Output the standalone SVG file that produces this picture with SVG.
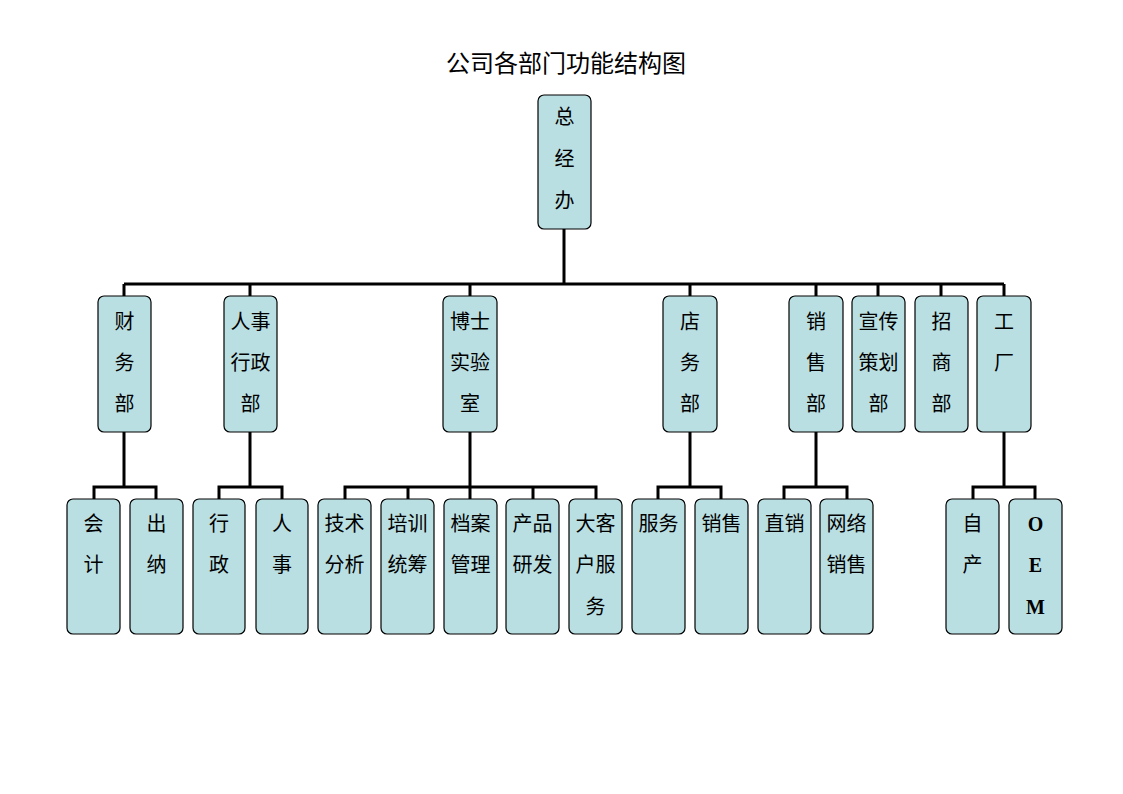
<svg xmlns="http://www.w3.org/2000/svg" width="1123" height="794" viewBox="0 0 1123 794">
<style>
.n{fill:#BADFE2;stroke:#000;stroke-width:1.2}
.t{font-family:"Noto Sans CJK SC","Liberation Sans",sans-serif;font-size:20px;fill:#000;text-anchor:middle}
.ti{font-family:"Noto Sans CJK SC","Liberation Sans",sans-serif;font-size:24px;fill:#000;text-anchor:middle}
.e{font-family:"Liberation Serif",serif;font-size:20px;font-weight:bold;fill:#000;text-anchor:middle}
.c{fill:none;stroke:#000;stroke-width:3}
</style>
<rect width="1123" height="794" fill="#fff"/>
<text class="ti" x="566" y="72">公司各部门功能结构图</text>
<g id="connectors">
<path class="c" d="M564 229V284M124 284H1004M124 284V296M250 284V296M470 284V296M690 284V296M816 284V296M878 284V296M941 284V296M1004 284V296"/>
<path class="c" d="M124 432V487M94 499V487H156V499"/>
<path class="c" d="M250 432V487M219 499V487H282V499"/>
<path class="c" d="M470 432V487M345 499V487H596V499M408 487V499M470 487V499M533 487V499"/>
<path class="c" d="M690 432V487M658 499V487H721V499"/>
<path class="c" d="M816 432V487M784 499V487H847V499"/>
<path class="c" d="M1004 432V487M973 499V487H1035V499"/>
</g>
<g id="zongjingban"><rect class="n" x="538" y="95" width="53" height="134" rx="6"/><text class="t" x="564.5" y="124">总</text><text class="t" x="564.5" y="166">经</text><text class="t" x="564.5" y="208">办</text></g>
<g id="caiwubu"><rect class="n" x="98" y="296" width="53" height="136" rx="6"/><text class="t" x="124.5" y="329">财</text><text class="t" x="124.5" y="370">务</text><text class="t" x="124.5" y="411">部</text></g>
<g id="renshixingzhengbu"><rect class="n" x="224" y="296" width="53" height="136" rx="6"/><text class="t" x="250.5" y="329">人事</text><text class="t" x="250.5" y="370">行政</text><text class="t" x="250.5" y="411">部</text></g>
<g id="boshishiyanshi"><rect class="n" x="443" y="296" width="54" height="136" rx="6"/><text class="t" x="470" y="329">博士</text><text class="t" x="470" y="370">实验</text><text class="t" x="470" y="411">室</text></g>
<g id="dianwubu"><rect class="n" x="663" y="296" width="54" height="136" rx="6"/><text class="t" x="690" y="329">店</text><text class="t" x="690" y="370">务</text><text class="t" x="690" y="411">部</text></g>
<g id="xiaoshoubu"><rect class="n" x="789" y="296" width="54" height="136" rx="6"/><text class="t" x="816" y="329">销</text><text class="t" x="816" y="370">售</text><text class="t" x="816" y="411">部</text></g>
<g id="xuanchuancehuabu"><rect class="n" x="852" y="296" width="53" height="136" rx="6"/><text class="t" x="878.5" y="329">宣传</text><text class="t" x="878.5" y="370">策划</text><text class="t" x="878.5" y="411">部</text></g>
<g id="zhaoshangbu"><rect class="n" x="915" y="296" width="53" height="136" rx="6"/><text class="t" x="941.5" y="329">招</text><text class="t" x="941.5" y="370">商</text><text class="t" x="941.5" y="411">部</text></g>
<g id="gongchang"><rect class="n" x="977" y="296" width="54" height="136" rx="6"/><text class="t" x="1004" y="329">工</text><text class="t" x="1004" y="370">厂</text></g>
<g id="kuaiji"><rect class="n" x="67" y="499" width="53" height="135" rx="6"/><text class="t" x="93.5" y="531">会</text><text class="t" x="93.5" y="572">计</text></g>
<g id="chuna"><rect class="n" x="130" y="499" width="53" height="135" rx="6"/><text class="t" x="156.5" y="531">出</text><text class="t" x="156.5" y="572">纳</text></g>
<g id="xingzheng"><rect class="n" x="193" y="499" width="52" height="135" rx="6"/><text class="t" x="219" y="531">行</text><text class="t" x="219" y="572">政</text></g>
<g id="renshi"><rect class="n" x="256" y="499" width="52" height="135" rx="6"/><text class="t" x="282" y="531">人</text><text class="t" x="282" y="572">事</text></g>
<g id="jishufenxi"><rect class="n" x="318" y="499" width="53" height="135" rx="6"/><text class="t" x="344.5" y="531">技术</text><text class="t" x="344.5" y="572">分析</text></g>
<g id="peixuntongchou"><rect class="n" x="381" y="499" width="53" height="135" rx="6"/><text class="t" x="407.5" y="531">培训</text><text class="t" x="407.5" y="572">统筹</text></g>
<g id="danganguanli"><rect class="n" x="444" y="499" width="53" height="135" rx="6"/><text class="t" x="470.5" y="531">档案</text><text class="t" x="470.5" y="572">管理</text></g>
<g id="chanpinyanfa"><rect class="n" x="506" y="499" width="53" height="135" rx="6"/><text class="t" x="532.5" y="531">产品</text><text class="t" x="532.5" y="572">研发</text></g>
<g id="dakehufuwu"><rect class="n" x="569" y="499" width="53" height="135" rx="6"/><text class="t" x="595.5" y="531">大客</text><text class="t" x="595.5" y="572">户服</text><text class="t" x="595.5" y="614">务</text></g>
<g id="fuwu"><rect class="n" x="632" y="499" width="53" height="135" rx="6"/><text class="t" x="658.5" y="531">服务</text></g>
<g id="xiaoshou"><rect class="n" x="695" y="499" width="53" height="135" rx="6"/><text class="t" x="721.5" y="531">销售</text></g>
<g id="zhixiao"><rect class="n" x="758" y="499" width="53" height="135" rx="6"/><text class="t" x="784.5" y="531">直销</text></g>
<g id="wangluoxiaoshou"><rect class="n" x="820" y="499" width="53" height="135" rx="6"/><text class="t" x="846.5" y="531">网络</text><text class="t" x="846.5" y="572">销售</text></g>
<g id="zichan"><rect class="n" x="946" y="499" width="53" height="135" rx="6"/><text class="t" x="972.5" y="531">自</text><text class="t" x="972.5" y="572">产</text></g>
<g id="oem"><rect class="n" x="1009" y="499" width="53" height="135" rx="6"/><text class="e" x="1035.5" y="531">O</text><text class="e" x="1035.5" y="572">E</text><text class="e" x="1035.5" y="614">M</text></g>
</svg>
